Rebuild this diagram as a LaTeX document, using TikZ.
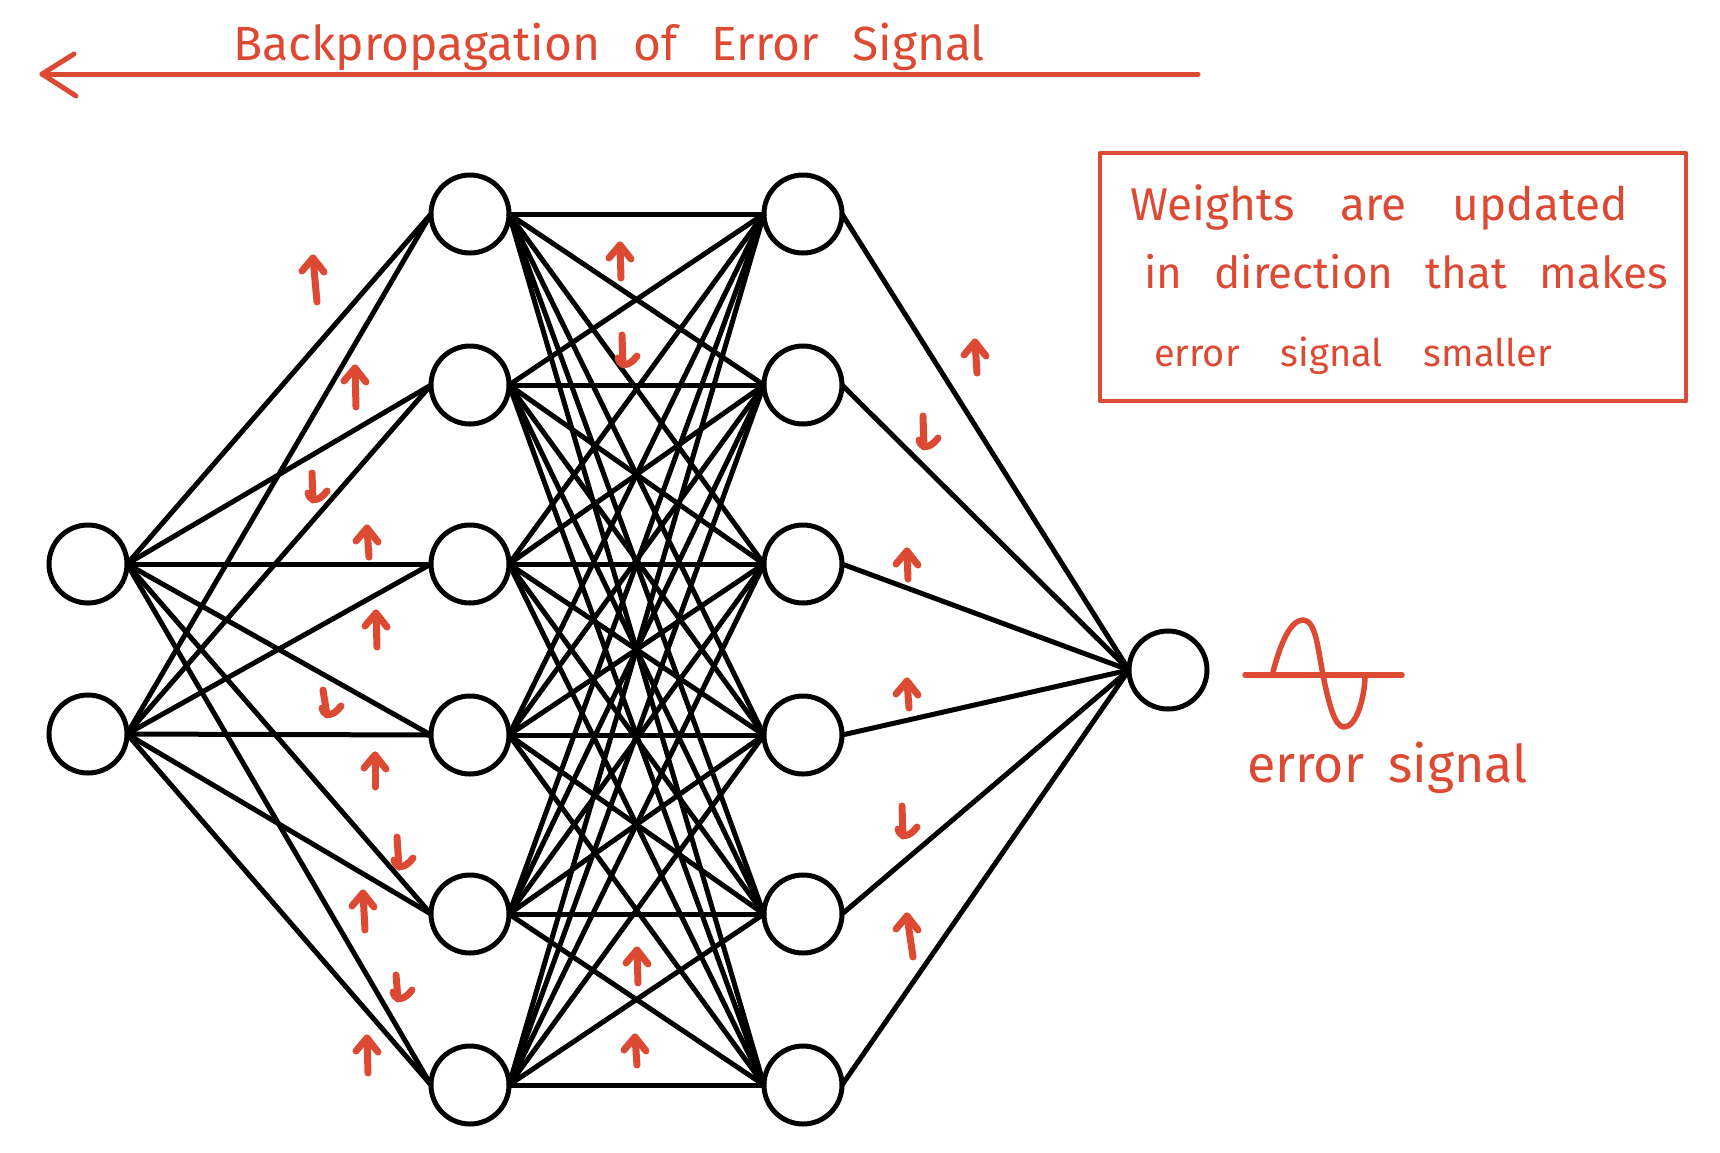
\documentclass[tikz,border=0pt]{standalone}
\usepackage{fontspec}
\setmainfont{Fira Sans}
\definecolor{pen}{RGB}{220,74,52}
\tikzset{
  neuron/.style={circle,draw=black,line width=5pt,fill=white,minimum size=78pt,inner sep=0pt,outer sep=0pt},
  wire/.style={draw=black,line width=5pt},
  redline/.style={draw=pen,line width=5pt,line cap=round,line join=round},
  tick/.style={draw=pen,line width=7pt,line cap=round,line join=round},
  hand/.style={text=pen,inner sep=0pt,outer sep=0pt,anchor=base west},
}
\newcommand{\UpArr}[4]{\draw[tick] (#3,#4) -- (#1,#2); \draw[tick] ({#1-11},{#2+13}) -- (#1,#2) -- ({#1+11},{#2+14});}
\newcommand{\DnArr}[4]{\draw[tick] (#1,#2) -- (#3,#4); \draw[tick] ({#3-5},{#4-7}) .. controls ({#3-3},{#4+2}) and ({#3+6},{#4+2}) .. ({#3+14},{#4-9});}
\begin{document}
\begin{tikzpicture}[x=1pt,y=-1pt]
\useasboundingbox (0,0) rectangle (1720,1152);
% title
\node[hand,font=\fontsize{48pt}{48pt}\selectfont] (title) at (233,60) {\makebox[752pt][s]{Backpropagation of Error Signal}};
\coordinate (tailR) at (1198,74);
\coordinate (tipL) at (42,74);
\draw[redline] (tailR) -- (tipL);
\draw[redline] (74,54) -- (tipL) -- (76,96);
% neurons
\node[neuron] (i1) at (88,564) {};
\node[neuron] (i2) at (88,734) {};
\foreach \k/\y in {1/214,2/385,3/564,4/735,5/914,6/1085}{
  \node[neuron] (a\k) at (470,\y) {};
  \node[neuron] (b\k) at (803,\y) {};
}
\node[neuron] (o) at (1168,670) {};
% connections
\foreach \s in {1,2}{\foreach \t in {1,...,6}{\draw[wire] (i\s.east) -- (a\t.west);}}
\foreach \s in {1,...,6}{\foreach \t in {1,...,6}{\draw[wire] (a\s.east) -- (b\t.west);}}
\foreach \s in {1,...,6}{\draw[wire] (b\s.east) -- (o.west);}
% weight arrows
\UpArr{313}{258}{317}{302}
\UpArr{355}{368}{356}{407}
\UpArr{367}{528}{369}{557}
\UpArr{376}{613}{377}{647}
\UpArr{375}{755}{375}{787}
\UpArr{363}{893}{365}{930}
\UpArr{367}{1038}{368}{1073}
\UpArr{620}{245}{621}{278}
\UpArr{637}{950}{638}{983}
\UpArr{635}{1037}{637}{1065}
\UpArr{975}{342}{977}{373}
\UpArr{907}{551}{908}{579}
\UpArr{907}{681}{909}{708}
\UpArr{907}{916}{913}{957}
\DnArr{312}{473}{313}{500}
\DnArr{323}{690}{327}{715}
\DnArr{397}{837}{399}{867}
\DnArr{396}{975}{398}{999}
\DnArr{622}{335}{623}{365}
\DnArr{923}{416}{924}{447}
\DnArr{902}{806}{903}{836}
% note box
\draw[redline,line width=4.5pt] (1100,153) rectangle (1686,401);
\node[hand,font=\fontsize{46pt}{46pt}\selectfont] (n1) at (1130,220) {\makebox[498pt][s]{Weights are updated}};
\node[hand,font=\fontsize{44pt}{44pt}\selectfont] (n2) at (1144,288) {\makebox[524pt][s]{in direction that makes}};
\node[hand,font=\fontsize{38pt}{38pt}\selectfont] (n3) at (1154,366) {\makebox[398pt][s]{error signal smaller}};
% error signal
\draw[redline,line width=5.5pt] (1245,675) -- (1402,675);
\draw[redline,line width=5.5pt] (1273,672) .. controls (1280,645) and (1290,620) .. (1303,620)
  .. controls (1316,620) and (1318,650) .. (1323,675)
  .. controls (1329,705) and (1335,727) .. (1344,727)
  .. controls (1356,727) and (1364,700) .. (1365,678);
\node[hand,font=\fontsize{52pt}{52pt}\selectfont] (es) at (1247,782) {\makebox[281pt][s]{error signal}};
\end{tikzpicture}
\end{document}
